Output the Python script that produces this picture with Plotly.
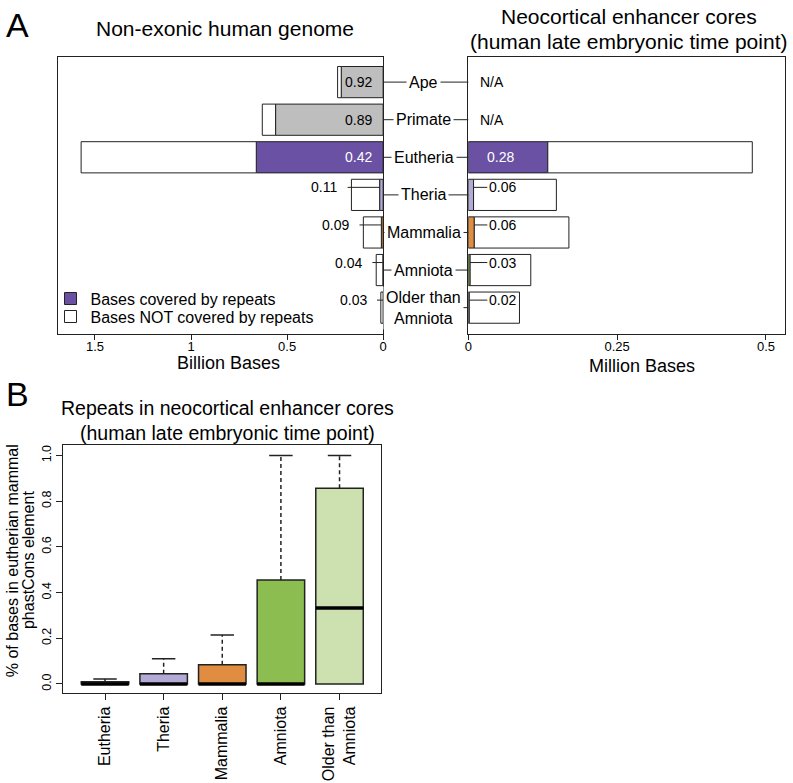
import plotly.graph_objects as go

W, H = 793, 783

# ---------------- data ----------------
clades = ["Ape", "Primate", "Eutheria", "Theria", "Mammalia", "Amniota", "Older than<br>Amniota"]
genome_total = [0.237, 0.629, 1.572, 0.165, 0.103, 0.036, 0.012]   # billion bases
genome_frac = [0.92, 0.89, 0.42, 0.11, 0.09, 0.04, 0.03]          # fraction covered by repeats
enh_total = [None, None, 0.477, 0.148, 0.169, 0.105, 0.086]        # million bases
enh_frac = [None, None, 0.28, 0.06, 0.06, 0.03, 0.02]

box_clades = ["Eutheria", "Theria", "Mammalia", "Amniota", "Older than<br>Amniota"]
box_q1 = [0.0, 0.0, 0.0, 0.0, 0.0]
box_med = [0.0, 0.0, 0.0, 0.0, 0.333]
box_q3 = [0.010, 0.045, 0.084, 0.455, 0.857]
box_upper = [0.022, 0.110, 0.214, 1.0, 1.0]

x_ticks_genome = [0, 0.5, 1, 1.5]
x_ticks_enh = [0, 0.25, 0.5]
y_ticks_box = [0.0, 0.2, 0.4, 0.6, 0.8, 1.0]

# ---------------- style ----------------
PURPLE = "#6a51a3"
GRAY = "#bebebe"
LPURPLE = "#b3aad6"
ORANGE = "#e08d42"
GREEN = "#8cbd50"
LGREEN = "#cde0b0"
clade_colors = [GRAY, GRAY, PURPLE, LPURPLE, ORANGE, GREEN, LGREEN]
box_colors = [PURPLE, LPURPLE, ORANGE, GREEN, LGREEN]
FONT = "Liberation Sans, Arial, Helvetica, sans-serif"
EDGE = "#222222"


def px(p):
    return p / W


def py(p):
    return 1 - p / H


ypos = list(range(len(clades)))
fig = go.Figure()

# ---------------- top-left: genome ----------------
g_rep = [t * f for t, f in zip(genome_total, genome_frac)]
g_non = [t - r for t, r in zip(genome_total, g_rep)]
fig.add_trace(go.Bar(y=ypos, x=g_rep, base=[0] * len(ypos), orientation="h", width=0.83,
                     marker=dict(color=clade_colors, line=dict(color=EDGE, width=1)),
                     xaxis="x", yaxis="y", showlegend=False, hoverinfo="skip"))
fig.add_trace(go.Bar(y=ypos, x=g_non, base=g_rep, orientation="h", width=0.83,
                     marker=dict(color="white", line=dict(color=EDGE, width=1)),
                     xaxis="x", yaxis="y", showlegend=False, hoverinfo="skip"))

# ---------------- top-right: enhancers ----------------
e_rep = [None if t is None else t * f for t, f in zip(enh_total, enh_frac)]
e_non = [None if t is None else t - r for t, r in zip(enh_total, e_rep)]
fig.add_trace(go.Bar(y=ypos, x=e_rep, base=[0] * len(ypos), orientation="h", width=0.83,
                     marker=dict(color=clade_colors, line=dict(color=EDGE, width=1)),
                     xaxis="x2", yaxis="y2", showlegend=False, hoverinfo="skip"))
fig.add_trace(go.Bar(y=ypos, x=e_non, base=[0 if r is None else r for r in e_rep], orientation="h", width=0.83,
                     marker=dict(color="white", line=dict(color=EDGE, width=1)),
                     xaxis="x2", yaxis="y2", showlegend=False, hoverinfo="skip"))

# legend entries (one legend each, for precise placement)
fig.add_trace(go.Bar(x=[None], y=[None], name="Bases covered by repeats", orientation="h",
                     marker=dict(color=PURPLE, line=dict(color=EDGE, width=1)),
                     xaxis="x", yaxis="y", showlegend=True, legend="legend"))
fig.add_trace(go.Bar(x=[None], y=[None], name="Bases NOT covered by repeats", orientation="h",
                     marker=dict(color="white", line=dict(color=EDGE, width=1)),
                     xaxis="x", yaxis="y", showlegend=True, legend="legend2"))

annotations = []
LOFF = -0.2  # label vertical offset (category units)

# leader lines + labels, left panel
lx, ly = [], []
for i, (t, r, f) in enumerate(zip(genome_total, g_rep, genome_frac)):
    txt_ = f"{f:.2f}"
    if t > 0.2:
        annotations.append(dict(x=0, y=i, xref="x", yref="y", text=txt_, showarrow=False,
                                xanchor="right", xshift=-9,
                                font=dict(size=14, color="white" if clade_colors[i] == PURPLE else "black")))
    else:
        lx += [r, t + 0.02, None]
        ly += [i + LOFF, i + LOFF, None]
        annotations.append(dict(x=t, y=i + LOFF, xref="x", yref="y", text=txt_, showarrow=False,
                                xanchor="right", xshift=-12, font=dict(size=14, color="black")))
fig.add_trace(go.Scatter(x=lx, y=ly, mode="lines", line=dict(color=EDGE, width=1),
                         xaxis="x", yaxis="y", showlegend=False, hoverinfo="skip"))

# right panel labels
rx, ry = [], []
LAB_X = 0.032
for i, (t, r, f) in enumerate(zip(enh_total, e_rep, enh_frac)):
    if t is None:
        annotations.append(dict(x=0, y=i, xref="x2", yref="y2", text="N/A", showarrow=False,
                                xanchor="left", xshift=10, font=dict(size=14, color="black")))
    elif r > 0.05:
        annotations.append(dict(x=0, y=i, xref="x2", yref="y2", text=f"{f:.2f}", showarrow=False,
                                xanchor="left", xshift=17, font=dict(size=14, color="white")))
    else:
        rx += [r, LAB_X, None]
        ry += [i + LOFF, i + LOFF, None]
        annotations.append(dict(x=LAB_X, y=i + LOFF, xref="x2", yref="y2", text=f"{f:.2f}", showarrow=False,
                                xanchor="left", xshift=0, font=dict(size=14, color="black")))
fig.add_trace(go.Scatter(x=rx, y=ry, mode="lines", line=dict(color=EDGE, width=1),
                         xaxis="x2", yaxis="y2", showlegend=False, hoverinfo="skip"))

# category labels between panels with connecting lines
shapes = []
for i, c in enumerate(clades):
    shapes.append(dict(type="line", xref="paper", yref="y", x0=px(383), x1=px(469), y0=i, y1=i,
                       line=dict(color=EDGE, width=1)))
    annotations.append(dict(x=px(424), y=i, xref="paper", yref="y", text=c, showarrow=False,
                            bgcolor="white", borderpad=2, font=dict(size=16, color="black")))

# ---------------- bottom: box plot ----------------
bx = list(range(1, len(box_clades) + 1))
fig.add_trace(go.Bar(x=bx, y=[q3 - q1 for q1, q3 in zip(box_q1, box_q3)], base=box_q1, width=0.81,
                     marker=dict(color=box_colors, line=dict(color=EDGE, width=1.5)),
                     xaxis="x3", yaxis="y3", showlegend=False, hoverinfo="skip"))
wx, wy, cx, cy, mx, my = [], [], [], [], [], []
for c, q3, up, md in zip(bx, box_q3, box_upper, box_med):
    wx += [c, c, None]
    wy += [q3, up, None]
    cx += [c - 0.2, c + 0.2, None]
    cy += [up, up, None]
    mx += [c - 0.405, c + 0.405, None]
    my += [md, md, None]
fig.add_trace(go.Scatter(x=wx, y=wy, mode="lines", line=dict(color=EDGE, width=1.5, dash="4px,3px"),
                         xaxis="x3", yaxis="y3", showlegend=False, hoverinfo="skip"))
fig.add_trace(go.Scatter(x=cx, y=cy, mode="lines", line=dict(color=EDGE, width=1.5),
                         xaxis="x3", yaxis="y3", showlegend=False, hoverinfo="skip"))
fig.add_trace(go.Scatter(x=mx, y=my, mode="lines", line=dict(color="black", width=3.5),
                         xaxis="x3", yaxis="y3", showlegend=False, hoverinfo="skip"))

# ---------------- titles ----------------
def txt(x, y, s, size, **kw):
    d = dict(x=px(x), y=py(y), xref="paper", yref="paper", text=s, showarrow=False,
             font=dict(size=size, color="black"), xanchor="center", yanchor="middle")
    d.update(kw)
    annotations.append(d)


txt(14, 24, "A", 34)
txt(14, 394, "B", 34)
txt(223, 28, "Non-exonic human genome", 21)
txt(631, 16, "Neocortical enhancer cores", 21)
txt(631, 41, "(human late embryonic time point)", 21)
txt(227, 362, "Billion Bases", 18)
txt(644, 365, "Million Bases", 18)
txt(226, 408, "Repeats in neocortical enhancer cores", 19.5)
txt(226, 433, "(human late embryonic time point)", 19.5)
txt(8, 560, "% of bases in eutherian mammal", 16, textangle=-90)
txt(25, 560, "phastCons element", 16, textangle=-90)

axis_common = dict(showline=True, mirror=True, linecolor=EDGE, linewidth=1, zeroline=False,
                   showgrid=False, ticks="outside", ticklen=5, tickcolor=EDGE,
                   tickfont=dict(size=13, color="black"))

top_dom = [py(333), py(56)]
legend_common = dict(xanchor="left", yanchor="middle", bgcolor="rgba(0,0,0,0)",
                     font=dict(size=16, color="black"), itemwidth=30)
fig.update_layout(
    width=W, height=H,
    margin=dict(l=0, r=0, t=0, b=0),
    paper_bgcolor="white", plot_bgcolor="white",
    font=dict(family=FONT, color="black"),
    barmode="overlay",
    xaxis=dict(domain=[px(55), px(383)], range=[1.69, 0], tickvals=x_ticks_genome,
               ticktext=[f"{v:g}" for v in x_ticks_genome], anchor="y", ticklabelstandoff=-4,
               **axis_common),
    yaxis=dict(domain=top_dom, range=[6.69, -0.67], showticklabels=False, anchor="x",
               **{**axis_common, "ticks": ""}),
    xaxis2=dict(domain=[px(469), px(789)], range=[0, 0.532], tickvals=x_ticks_enh,
                ticktext=[f"{v:g}" for v in x_ticks_enh], anchor="y2", ticklabelstandoff=-4,
                **axis_common),
    yaxis2=dict(domain=top_dom, range=[6.69, -0.67], showticklabels=False, anchor="x2",
                **{**axis_common, "ticks": ""}),
    xaxis3=dict(domain=[px(60), px(381)], range=[0.29, 5.71], tickvals=bx, ticktext=box_clades,
                tickangle=-90, anchor="y3",
                **{**axis_common, "tickfont": dict(size=16, color="black"), "ticklen": 6}),
    yaxis3=dict(domain=[py(693), py(445)], range=[-0.04, 1.044], tickvals=y_ticks_box,
                ticktext=[f"{v:.1f}" for v in y_ticks_box], tickangle=-90, anchor="x3",
                **{**axis_common, "tickfont": dict(size=12.5, color="black"), "ticklen": 6}),
    legend=dict(x=px(47), y=py(298), **legend_common),
    legend2=dict(x=px(47), y=py(316), **legend_common),
    shapes=shapes,
    annotations=annotations,
)

fig.write_html("out.html", config={"displayModeBar": False},
               post_script="document.body.style.margin='0px';document.body.style.padding='0px';")
